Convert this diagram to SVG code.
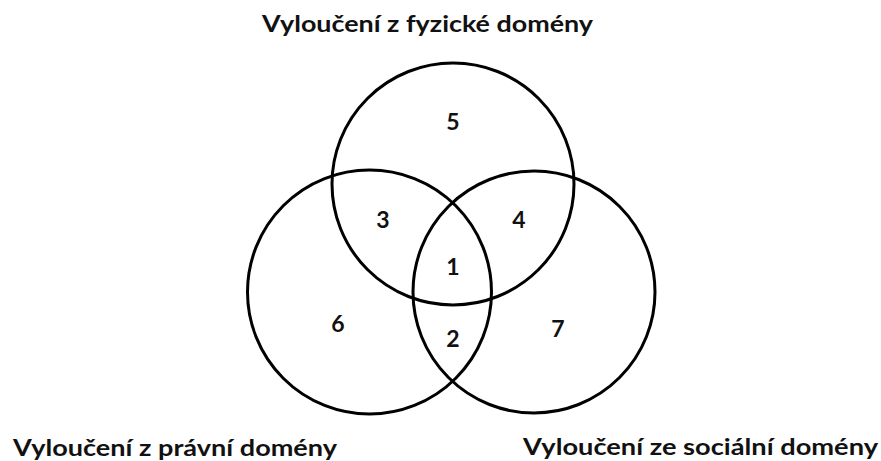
<svg xmlns="http://www.w3.org/2000/svg" width="881" height="461" viewBox="0 0 881 461">
<style>
.c{fill:none;stroke:#000;stroke-width:3}
.t{font-family:Lato,"Open Sans","Liberation Sans",sans-serif;font-weight:bold;font-size:23px;fill:#111}
.n{font-family:Lato,"Open Sans","Liberation Sans",sans-serif;font-weight:bold;font-size:23px;fill:#111;text-anchor:middle}
</style>
<rect width="881" height="461" fill="#fff"/>
<g id="fyzicka">
<circle class="c" cx="453" cy="184" r="121"/>
<text class="t" x="262" y="32" textLength="331" lengthAdjust="spacingAndGlyphs">Vyloučení z fyzické domény</text>
</g>
<g id="pravni">
<circle class="c" cx="369.5" cy="292" r="122"/>
<text class="t" x="13" y="456" textLength="324" lengthAdjust="spacingAndGlyphs">Vyloučení z právní domény</text>
</g>
<g id="socialni">
<circle class="c" cx="534" cy="292" r="121"/>
<text class="t" x="523" y="455" textLength="355" lengthAdjust="spacingAndGlyphs">Vyloučení ze sociální domény</text>
</g>
<g id="regions">
<text class="n" x="453" y="130">5</text>
<text class="n" x="383" y="228">3</text>
<text class="n" x="519" y="228">4</text>
<text class="n" x="453" y="275">1</text>
<text class="n" x="338" y="332">6</text>
<text class="n" x="453" y="347">2</text>
<text class="n" x="558" y="337">7</text>
</g>
<g id="connectors"/>
</svg>
